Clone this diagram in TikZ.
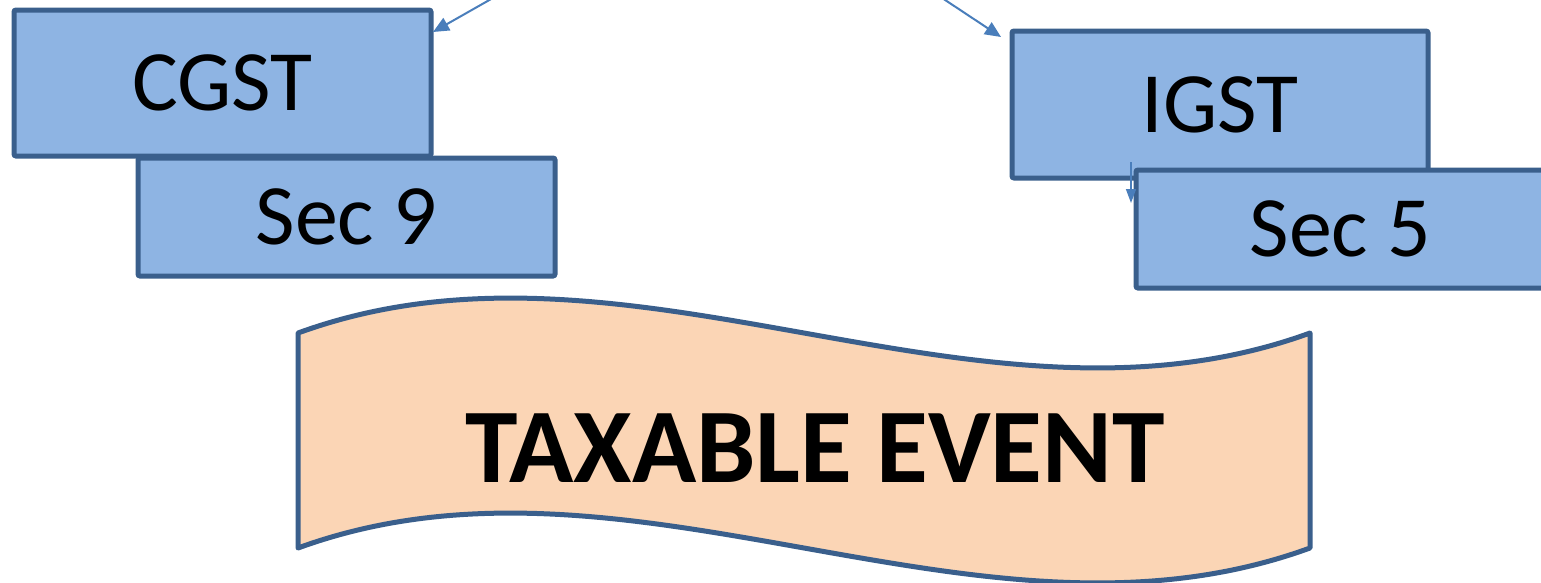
\documentclass[tikz,border=0pt]{standalone}
\usepackage{fontspec}
\setmainfont{Carlito}
\usetikzlibrary{arrows.meta}
\definecolor{boxfill}{HTML}{8EB4E3}
\definecolor{boxline}{HTML}{3A5F8C}
\definecolor{wavefill}{HTML}{FBD5B5}
\definecolor{arrowblue}{HTML}{4A7EBB}
\begin{document}
\begin{tikzpicture}[x=1pt,y=-1pt,
  taxbox/.style={draw=boxline, fill=boxfill, line width=5pt, rounded corners=2pt,
    inner sep=0pt, font=\fontsize{86}{90}\selectfont},
  link/.style={draw=arrowblue, line width=2pt,
    -{Triangle[length=16pt,width=14pt]}}]
  \useasboundingbox (0,0) rectangle (1541,582);

  % left pair: CGST with its section
  \node[taxbox, minimum width=417pt, minimum height=146pt] (cgst) at (222.5,83) {CGST};
  \node[taxbox, minimum width=417pt, minimum height=118pt] (sec9) at (346.5,217) {Sec 9};

  % right pair: IGST with its section
  \node[taxbox, minimum width=416pt, minimum height=147pt] (igst) at (1220,104.5) {IGST};
  \node[taxbox, minimum width=409pt, minimum height=118pt] (sec5) at (1340.5,229) {Sec 5};

  % incoming connectors
  \coordinate (srcL) at (507,-10);
  \coordinate (srcR) at (930,-10);
  \coordinate (tipL) at (433,32);
  \coordinate (tipR) at (1001,37);
  \draw[link] (srcL) -- (tipL);
  \draw[link] (srcR) -- (tipR);
  \coordinate (igstdrop) at (1131,162);
  \coordinate (sec5side) at (1131,203);
  \draw[link, line width=1.5pt, -{Triangle[length=14pt,width=10pt]}] (igstdrop) -- (sec5side);

  % wave banner
  \draw[draw=boxline, fill=wavefill, line width=5pt, line join=round]
    (298,333) .. controls (630,212) and (978,454) .. (1310,333)
    -- (1310,548) .. controls (978,669) and (630,427) .. (298,548) -- cycle;
  \node[font=\fontsize{106}{110}\selectfont\bfseries] (event) at (815,448) {TAXABLE EVENT};
\end{tikzpicture}
\end{document}
